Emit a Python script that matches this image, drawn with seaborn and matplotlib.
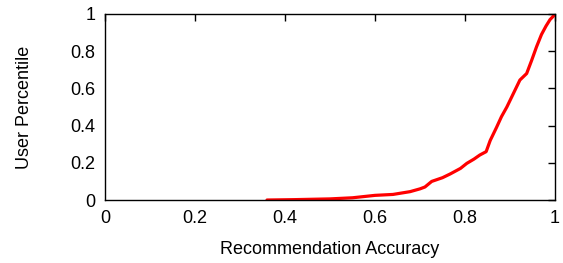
import matplotlib
matplotlib.use("Agg")
import matplotlib.pyplot as plt
import seaborn as sns
import pandas as pd

# CDF of recommendation accuracy over users
accuracy = [0.36, 0.42, 0.50, 0.55, 0.60, 0.64, 0.678, 0.70, 0.711, 0.726,
            0.75, 0.767, 0.79, 0.804, 0.82, 0.833, 0.847, 0.856, 0.87,
            0.881, 0.893, 0.904, 0.922, 0.937, 0.948, 0.959, 0.97, 0.98,
            0.989, 0.995, 1.0]
percentile = [0.0, 0.002, 0.006, 0.012, 0.025, 0.03, 0.045, 0.06, 0.07, 0.10,
              0.12, 0.14, 0.17, 0.197, 0.22, 0.242, 0.26, 0.32, 0.39,
              0.448, 0.50, 0.555, 0.645, 0.68, 0.75, 0.824, 0.89, 0.935,
              0.97, 0.985, 1.0]

df = pd.DataFrame({"acc": accuracy, "pct": percentile})

sns.set_style("white")
plt.rcParams["font.family"] = ["Liberation Sans", "DejaVu Sans"]
plt.rcParams["text.color"] = "black"
plt.rcParams["axes.labelcolor"] = "black"

fig = plt.figure(figsize=(5.63, 2.63), dpi=100)
ax = fig.add_axes([0.1865, 0.2395, 0.7993, 0.7073])

sns.lineplot(data=df, x="acc", y="pct", color="red", linewidth=2.3, ax=ax)

ax.set_xlim(0, 1)
ax.set_ylim(0, 1)
ax.set_xticks([0, 0.2, 0.4, 0.6, 0.8, 1])
ax.set_xticklabels(["0", "0.2", "0.4", "0.6", "0.8", "1"])
ax.set_yticks([0, 0.2, 0.4, 0.6, 0.8, 1])
ax.set_yticklabels(["0", "0.2", "0.4", "0.6", "0.8", "1"])
ax.tick_params(direction="in", length=5, width=1, top=True, right=True,
               labelsize=13, pad=7, colors="black")
for s in ax.spines.values():
    s.set_color("black")
    s.set_linewidth(1)
ax.set_xlabel("Recommendation Accuracy", fontsize=13, labelpad=10)
ax.set_ylabel("User Percentile", fontsize=13, labelpad=27)

fig.savefig("out.png", dpi=100)
